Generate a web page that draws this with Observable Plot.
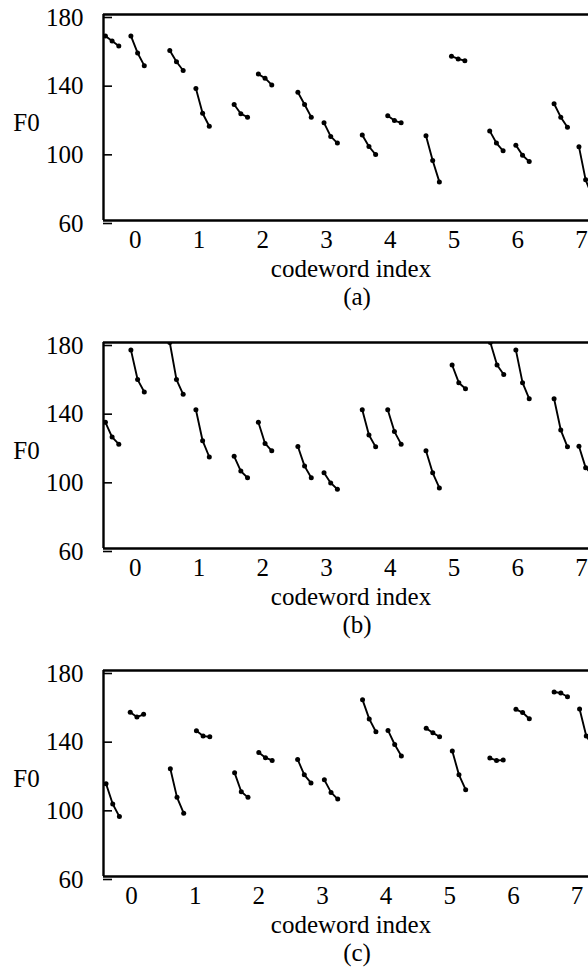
<!DOCTYPE html>
<html><head><meta charset="utf-8">
<script src="https://cdn.jsdelivr.net/npm/d3@7"></script>
<script src="https://cdn.jsdelivr.net/npm/@observablehq/plot@0.6"></script>
<style>
body{margin:0;background:#fff;overflow:hidden}
#chart svg{display:block}
</style></head><body><div id="chart"></div>
<script>
// ---- data ----
const panelLabels = ["(a)", "(b)", "(c)"];
const xTicks = [0, 1, 2, 3, 4, 5, 6, 7];
const yTicks = [60, 100, 140, 180];
const xLabel = "codeword index";
const yLabel = "F0";
// offsets of the 3 frames inside each short F0 contour
const frameOffsets = [0, 0.105, 0.21];

// panel (a)
const startsA = [-0.47, -0.07, 0.54, 0.95, 1.55, 1.93, 2.55, 2.96, 3.56, 3.96, 4.56, 4.96, 5.56, 5.97, 6.57, 6.96];
const f0A = [
  [167.5, 164.5, 161.6], [167.5, 157.6, 150.2], [159, 152.5, 147.4], [136.9, 122.5, 114.9],
  [127.6, 122.2, 120.2], [145.3, 142.9, 139], [134.7, 127.6, 120.2], [116.9, 109, 105.1],
  [109.8, 103.1, 98.4], [121, 118.2, 116.9], [109.4, 94.9, 82.5], [155.7, 154.1, 153.1],
  [112.2, 105.1, 100.6], [103.9, 98, 94.3], [128, 120.2, 114.3], [103, 83.7, 74]
];

// panel (b)
const startsB = [-0.47, -0.07, 0.54, 0.95, 1.55, 1.93, 2.55, 2.96, 3.56, 3.96, 4.56, 4.97, 5.57, 5.97, 6.57, 6.96];
const f0B = [
  [133.5, 124.9, 120.8], [175.7, 158.4, 151.2], [180, 158.4, 149.8], [140.8, 122.8, 113.3],
  [113.7, 105.1, 101.2], [133.5, 121.2, 116.9], [119.4, 108, 101.2], [104.1, 98.2, 94.5],
  [140.8, 126.1, 119.2], [140.8, 128.1, 120.8], [116.9, 104.1, 95.3], [166.9, 156.6, 153.1],
  [180, 166.9, 161.4], [175.7, 156.6, 147.2], [147.2, 129, 119.2], [119.6, 107.1, 103]
];

// panel (c)
const startsC = [-0.40, -0.02, 0.61, 1.02, 1.62, 2.0, 2.61, 3.03, 3.63, 4.03, 4.63, 5.04, 5.63, 6.04, 6.64, 7.04];
const f0C = [
  [114, 102.2, 94.9], [155.7, 152.9, 154.5], [122.8, 106.1, 96.9], [144.9, 141.8, 141.4],
  [120.4, 109.4, 106.1], [132.2, 129.2, 127.6], [128.2, 119.2, 114.5], [116.3, 109, 105.1],
  [162.9, 151.8, 144.3], [145.1, 136.9, 130.2], [146.3, 143.7, 141.4], [133.1, 119.2, 110.6],
  [129, 127.6, 127.8], [157.4, 155.5, 151.9], [167.5, 166.9, 164.7], [157.6, 141.8, 136]
];

// ---- layout ----
const panels = [
  {starts: startsA, f0: f0A, domain: [-0.5, 7.11], height: 328},
  {starts: startsB, f0: f0B, domain: [-0.5, 7.11], height: 328},
  {starts: startsC, f0: f0C, domain: [-0.44, 7.18], height: 315}
];

function rows(starts, f0) {
  const out = [];
  starts.forEach((s, i) => f0[i].forEach((v, j) => out.push({seg: i, x: s + frameOffsets[j], y: v})));
  return out;
}

const font = "'Liberation Serif', 'Times New Roman', Times, serif";
const root = document.getElementById("chart");

panels.forEach((p, k) => {
  const data = rows(p.starts, p.f0);
  const svg = Plot.plot({
    width: 588,
    height: p.height,
    marginTop: 14,
    marginLeft: 103,
    marginRight: 0,
    marginBottom: p.height - 220,
    style: {fontFamily: font, fontSize: "25px", color: "#000", background: "#fff", overflow: "visible"},
    x: {domain: p.domain},
    y: {domain: [60, 180]},
    marks: [
      Plot.ruleY([60, 180], {stroke: "#000", strokeWidth: 2.4}),
      Plot.ruleX([p.domain[0]], {stroke: "#000", strokeWidth: 2.4}),
      Plot.axisY(yTicks, {tickSize: -9, tickPadding: 29, strokeWidth: 1.6, dy: 3, label: null, tickFormat: d => d}),
      Plot.axisX(xTicks, {tickSize: 0, tickPadding: 10, label: null, tickFormat: d => d}),
      Plot.line(data, {x: "x", y: "y", z: "seg", stroke: "#000", strokeWidth: 1.9, clip: true}),
      Plot.dot(data, {x: "x", y: "y", r: 2.5, fill: "#000", stroke: null, clip: true}),
      Plot.text([xLabel], {text: d => d, frameAnchor: "bottom", textAnchor: "middle", lineAnchor: "middle", dy: 48, dx: 5, fill: "#000"}),
      Plot.text([panelLabels[k]], {text: d => d, frameAnchor: "bottom", textAnchor: "middle", lineAnchor: "middle", dy: 76, dx: 11, fill: "#000"}),
      Plot.text([yLabel], {text: d => d, frameAnchor: "left", textAnchor: "middle", lineAnchor: "middle", dx: -77, dy: 5, fill: "#000"})
    ]
  });
  root.appendChild(svg);
});
</script>
</body></html>
